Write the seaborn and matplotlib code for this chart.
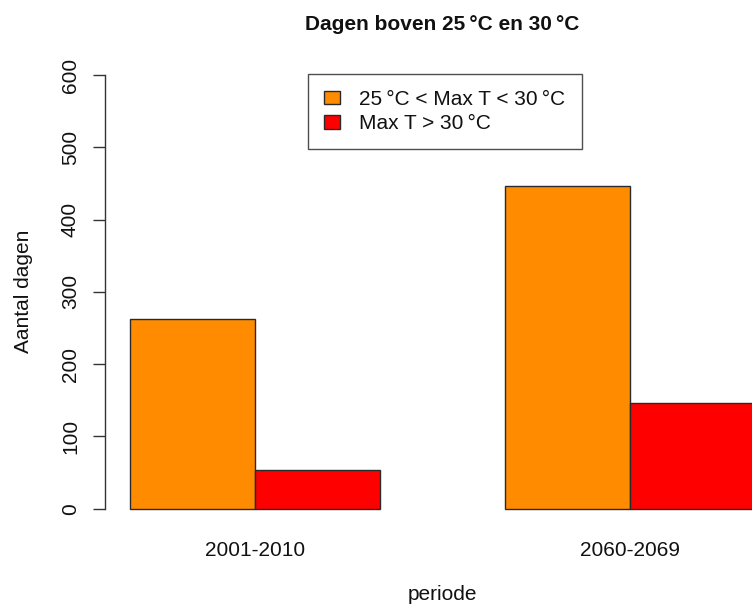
import matplotlib
matplotlib.use("Agg")
import matplotlib.pyplot as plt
import seaborn as sns
import pandas as pd

periods = ["2001-2010", "2060-2069"]
series = ["25\u2009°C < Max T < 30\u2009°C", "Max T > 30\u2009°C"]
warm_days = [262, 447]
hot_days = [54, 146]
colors = ["#FF8C00", "#FF0000"]

df = pd.DataFrame({
    "periode": periods * 2,
    "reeks": [series[0]] * 2 + [series[1]] * 2,
    "dagen": warm_days + hot_days,
})

sns.set_style("white")
plt.rcParams["font.family"] = ["Liberation Sans", "DejaVu Sans"]
plt.rcParams["text.color"] = "#111111"
plt.rcParams["axes.labelcolor"] = "#111111"
plt.rcParams["xtick.color"] = "#111111"
plt.rcParams["ytick.color"] = "#111111"

W, H = 752, 606
fig = plt.figure(figsize=(W / 100, H / 100), dpi=100)
left, right, top, bottom = 105, 780, 57.6, 526
ax = fig.add_axes([left / W, 1 - bottom / H, (right - left) / W, (bottom - top) / H])

sns.barplot(data=df, x="periode", y="dagen", hue="reeks", hue_order=series,
            order=periods, palette=colors, width=2 / 3, gap=0, ax=ax,
            edgecolor="#2a2a2a", linewidth=1, saturation=1, legend=True)

ax.set_xlim(-0.4, 1.4)
ax.set_ylim(-24, 624)
for s in ["top", "right", "bottom"]:
    ax.spines[s].set_visible(False)
ax.spines["left"].set_bounds(0, 600)
ax.spines["left"].set_color("#333333")
ax.spines["left"].set_linewidth(1)
ax.set_yticks([0, 100, 200, 300, 400, 500, 600])
ax.tick_params(axis="y", direction="out", length=9, width=1, color="#333333",
               labelsize=15, pad=9, left=True)
for lab in ax.get_yticklabels():
    lab.set_rotation(90)
    lab.set_va("center")
ax.tick_params(axis="x", length=0, labelsize=15, pad=11)
ax.set_xlabel("periode", fontsize=15, labelpad=18)
ax.set_ylabel("Aantal dagen", fontsize=15, labelpad=20)
ax.set_title("Dagen boven 25\u2009°C en 30\u2009°C", fontsize=15, fontweight="bold", pad=20)

handles, labels = ax.get_legend_handles_labels()
leg = ax.legend(handles, labels, loc="upper left",
                bbox_to_anchor=(308 / W, 1 - 74 / H), bbox_transform=fig.transFigure,
                borderaxespad=0, fontsize=15, frameon=True, fancybox=False,
                edgecolor="#222222", handlelength=0.75, handleheight=0.6,
                handletextpad=0.95, borderpad=0.77, labelspacing=0.25)
leg.get_frame().set_linewidth(1)

fig.savefig("out.png", dpi=100)
